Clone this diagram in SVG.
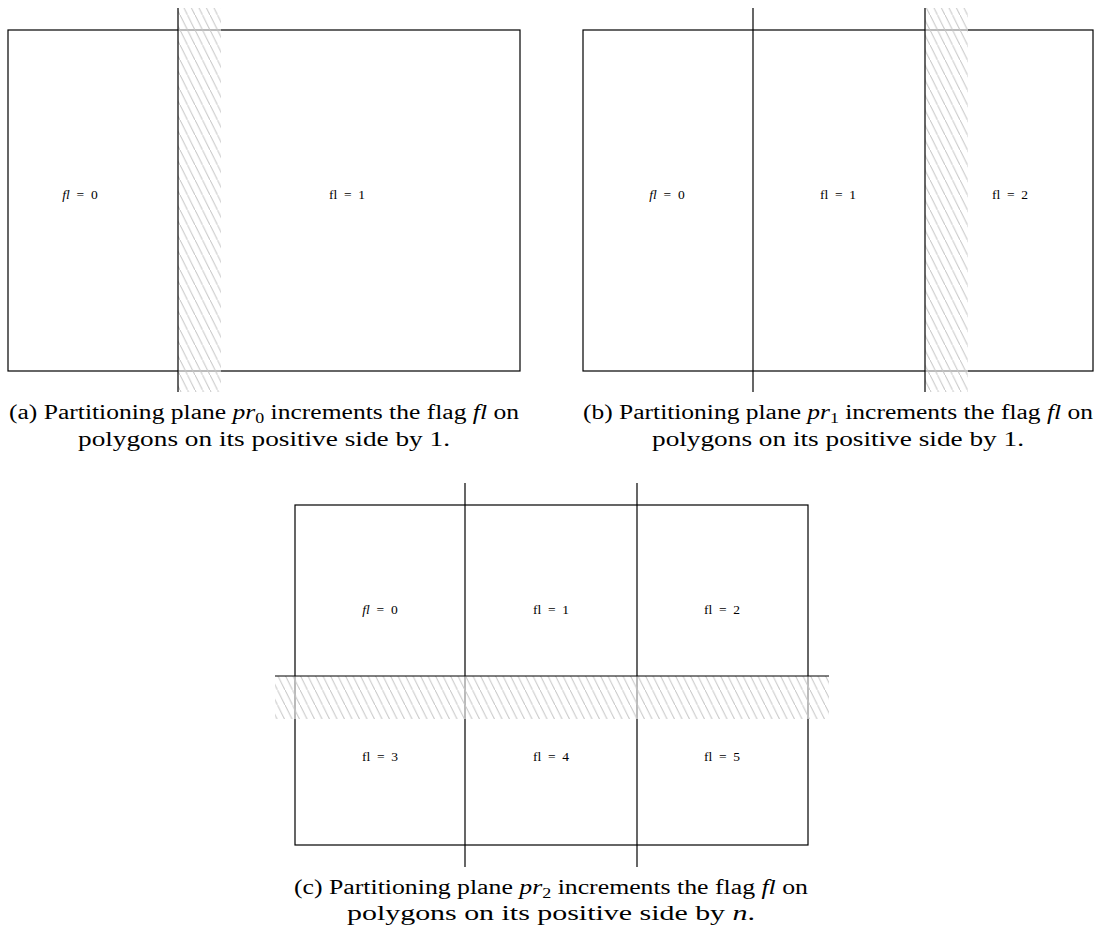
<svg xmlns="http://www.w3.org/2000/svg" width="1101" height="928" viewBox="0 0 1101 928">
<style>
.box{fill:none;stroke:#000;stroke-width:1.2}
.ln{stroke:#000;stroke-width:1.2}
.veil{fill:#fff;fill-opacity:0.55}
.hatch{fill:url(#hp)}
.lbl{font-family:"Liberation Serif",serif;font-size:13.5px;text-anchor:middle}
.cap{font-family:"Liberation Serif",serif;font-size:20px;text-anchor:middle}
.it{font-style:italic}
.sub{font-size:14px}
</style>
<defs>
<pattern id="hp" patternUnits="userSpaceOnUse" width="7.5" height="15">
<path d="M0,0 L7.5,15 M-1,-2 L1,2 M6.5,13 L8.5,17" stroke="#c4c4c4" stroke-width="1"/>
</pattern>
</defs>
<rect width="1101" height="928" fill="#fff"/>

<g id="panel-a">
<rect class="box" x="8" y="30" width="512" height="341"/>
<rect class="veil" x="178" y="8" width="43" height="384"/>
<rect class="hatch" x="178" y="8" width="43" height="384"/>
<line class="ln" x1="178" y1="8" x2="178" y2="392"/>
<text class="lbl" x="80" y="199"><tspan class="it">fl</tspan>&#8194;=&#8194;0</text>
<text class="lbl" x="347" y="199">fl&#8194;=&#8194;1</text>
<text class="cap" x="264" y="419" textLength="510" lengthAdjust="spacingAndGlyphs">(a) Partitioning plane <tspan class="it">pr</tspan><tspan class="sub" dy="4">0</tspan><tspan dy="-4"> increments the flag </tspan><tspan class="it">fl</tspan> on</text>
<text class="cap" x="264" y="446" textLength="372" lengthAdjust="spacingAndGlyphs">polygons on its positive side by 1.</text>
</g>

<g id="panel-b">
<rect class="box" x="583" y="30" width="510" height="341"/>
<line class="ln" x1="753" y1="8" x2="753" y2="392"/>
<rect class="veil" x="925" y="8" width="43" height="384"/>
<rect class="hatch" x="925" y="8" width="43" height="384"/>
<line class="ln" x1="925" y1="8" x2="925" y2="392"/>
<text class="lbl" x="667" y="199"><tspan class="it">fl</tspan>&#8194;=&#8194;0</text>
<text class="lbl" x="838" y="199">fl&#8194;=&#8194;1</text>
<text class="lbl" x="1010" y="199">fl&#8194;=&#8194;2</text>
<text class="cap" x="838" y="419" textLength="510" lengthAdjust="spacingAndGlyphs">(b) Partitioning plane <tspan class="it">pr</tspan><tspan class="sub" dy="4">1</tspan><tspan dy="-4"> increments the flag </tspan><tspan class="it">fl</tspan> on</text>
<text class="cap" x="838" y="446" textLength="372" lengthAdjust="spacingAndGlyphs">polygons on its positive side by 1.</text>
</g>

<g id="panel-c">
<rect class="box" x="295" y="505" width="513" height="340"/>
<line class="ln" x1="465" y1="483" x2="465" y2="867"/>
<line class="ln" x1="637" y1="483" x2="637" y2="867"/>
<rect class="veil" x="275" y="676" width="554" height="43"/>
<rect class="hatch" x="275" y="676" width="554" height="43"/>
<line class="ln" x1="275" y1="676" x2="829" y2="676"/>
<text class="lbl" x="380" y="614"><tspan class="it">fl</tspan>&#8194;=&#8194;0</text>
<text class="lbl" x="551" y="614">fl&#8194;=&#8194;1</text>
<text class="lbl" x="722" y="614">fl&#8194;=&#8194;2</text>
<text class="lbl" x="380" y="761">fl&#8194;=&#8194;3</text>
<text class="lbl" x="551" y="761">fl&#8194;=&#8194;4</text>
<text class="lbl" x="722" y="761">fl&#8194;=&#8194;5</text>
<text class="cap" x="551" y="894" textLength="514" lengthAdjust="spacingAndGlyphs">(c) Partitioning plane <tspan class="it">pr</tspan><tspan class="sub" dy="4">2</tspan><tspan dy="-4"> increments the flag </tspan><tspan class="it">fl</tspan> on</text>
<text class="cap" x="551" y="920" textLength="408" lengthAdjust="spacingAndGlyphs">polygons on its positive side by <tspan class="it">n</tspan>.</text>
</g>
</svg>
